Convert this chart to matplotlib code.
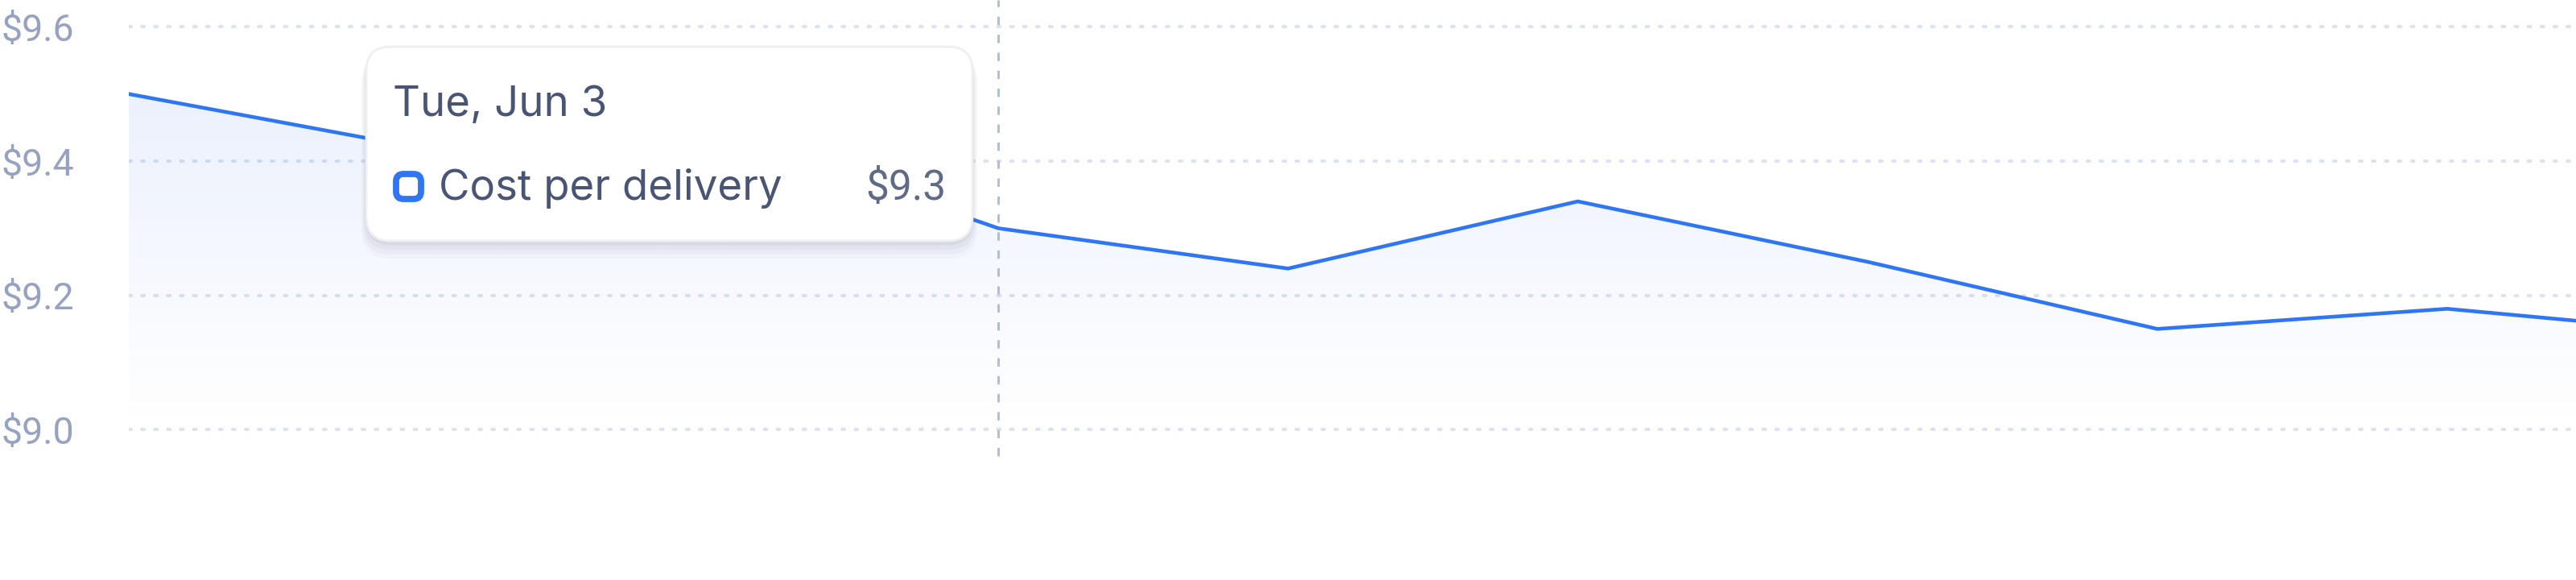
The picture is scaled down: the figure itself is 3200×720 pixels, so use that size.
import matplotlib
matplotlib.use("Agg")
import matplotlib.pyplot as plt
import numpy as np
from matplotlib.patches import FancyBboxPatch, Polygon
from matplotlib.transforms import Affine2D

plt.rcParams["font.family"] = ["Inter", "DejaVu Sans"]
NUM_FONT = ["Roboto", "DejaVu Sans"]

# daily cost per delivery (last point runs off the right edge)
days = ["Sat, May 31", "Sun, Jun 1", "Mon, Jun 2", "Tue, Jun 3", "Wed, Jun 4",
        "Thu, Jun 5", "Fri, Jun 6", "Sat, Jun 7", "Sun, Jun 8", "Mon, Jun 9"]
cost = [9.50, 9.42, 9.45, 9.30, 9.24, 9.34, 9.25, 9.15, 9.18, 9.14]
y_ticks = [9.0, 9.2, 9.4, 9.6]
y_labels = ["$9.0", "$9.2", "$9.4", "$9.6"]
hover = 3
series_name = "Cost per delivery"

BLUE = "#2f76f6"
GRID = "#dde2ee"
TICK = "#96a2bf"
TEXT = "#4a5573"

W, H = 3200, 720
fig = plt.figure(figsize=(W / 100, H / 100), dpi=100)
ax = fig.add_axes([160 / W, 0, 1 - 160 / W, 1])
x = np.arange(len(cost))
ax.set_xlim(0, (W - 160) / 360)
ax.set_ylim(8.776, 9.640)
ax.set_facecolor("none")
for s in ax.spines.values():
    s.set_visible(False)
ax.set_xticks([])
ax.set_yticks(y_ticks)
ax.set_yticklabels(y_labels)
ax.tick_params(axis="y", length=0, pad=113.8, labelsize=33.5, labelcolor=TICK)
for lab in ax.get_yticklabels():
    lab.set_horizontalalignment("left")
    lab.set_family(NUM_FONT)

# dotted gridlines
for yt in y_ticks:
    ax.axhline(yt, color=GRID, lw=2.9, linestyle=(0, (0.75, 3.25)),
               dash_capstyle="round", zorder=1)

# gradient fill under line
ybot = ax.get_ylim()[0]
verts = np.vstack([np.column_stack([x, cost]), [[x[-1], ybot], [x[0], ybot]]])
clip = Polygon(verts, closed=True, facecolor="none", edgecolor="none")
ax.add_patch(clip)
ytop = max(cost)
grad = np.zeros((256, 1, 4))
grad[:, 0, :3] = matplotlib.colors.to_rgb("#3b6ff0")
t = np.linspace(0, 1, 256)  # 0 bottom -> 1 top
ys = ybot + t * (ytop - ybot)
grad[:, 0, 3] = np.clip((ys - 9.0) / (ytop - 9.0), 0, 1) * 0.10
img = ax.imshow(grad, extent=[x[0], x[-1], ybot, ytop], origin="lower",
                aspect="auto", zorder=2, interpolation="bilinear")
img.set_clip_path(clip)

ax.plot(x, cost, color=BLUE, lw=3.3, solid_joinstyle="round", zorder=3)

# hover crosshair
ax.axvline(hover, ymin=(H - 566) / H, ymax=1, color="#b4bdd6", lw=2.2,
           linestyle=(0, (3.4, 3.9)), zorder=4)

# tooltip, drawn in pixel coordinates
px = Affine2D().scale(1 / 100) + fig.dpi_scale_trans
bx, bw = 455, 753
by, bh = H - 299, 241
for i, (off, a) in enumerate([(16, 0.02), (12, 0.03), (8, 0.04), (4, 0.05)]):
    grow = 12 - 3 * i
    sh = FancyBboxPatch((bx - grow / 2, by - off - grow / 2), bw + grow, bh + grow,
                        boxstyle="round,pad=0,rounding_size=34", transform=px,
                        facecolor="#1e2a4a", edgecolor="none", alpha=a, zorder=5)
    fig.add_artist(sh)
box = FancyBboxPatch((bx, by), bw, bh, boxstyle="round,pad=0,rounding_size=30",
                     transform=px, facecolor="white", edgecolor="#efeff2",
                     lw=2.0, zorder=6)
fig.add_artist(box)

fig.text(488, H - 144, days[hover], transform=px, fontsize=38, color=TEXT,
         ha="left", va="baseline", zorder=7)
mk = FancyBboxPatch((492, H - 247), 31, 31, boxstyle="round,pad=0,rounding_size=9",
                    transform=px, facecolor="white", edgecolor=BLUE, lw=5.6, zorder=7)
fig.add_artist(mk)
fig.text(545, H - 248, series_name, transform=px, fontsize=38, color=TEXT,
         ha="left", va="baseline", zorder=7)
fig.text(1175, H - 248, f"${cost[hover]:.1f}", transform=px, fontsize=37,
         color="#5f6a87", ha="right", va="baseline", family=NUM_FONT, zorder=7)

fig.savefig("out.png", dpi=100, facecolor="white")
